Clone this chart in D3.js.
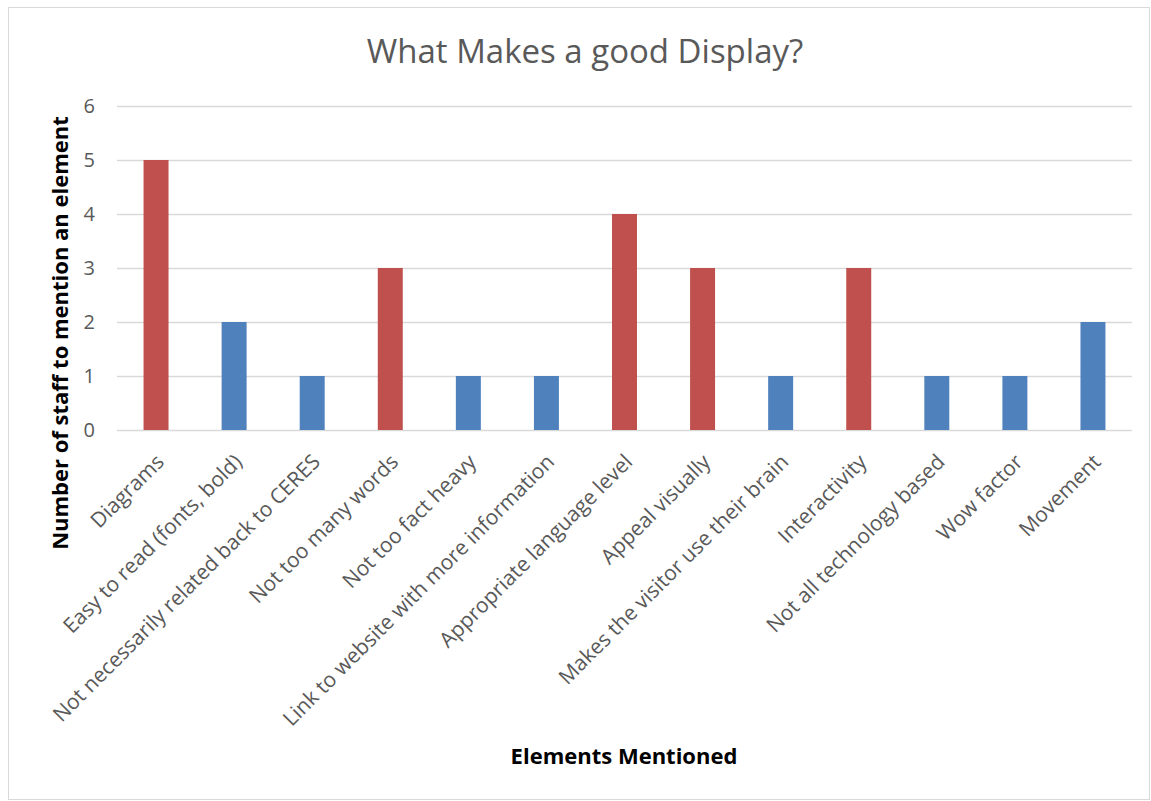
<!DOCTYPE html>
<html>
<head>
<meta charset="utf-8">
<script src="https://cdn.jsdelivr.net/npm/d3@7"></script>
<style>
  body { margin: 0; background: #fff; }
  text { font-family: "Open Sans", "Noto Sans", sans-serif; }
</style>
</head>
<body>
<div id="the_chart"></div>
<script>
// data
var categories = [
  "Diagrams",
  "Easy to read (fonts, bold)",
  "Not necessarily related back to CERES",
  "Not too many words",
  "Not too fact heavy",
  "Link to website with more information",
  "Appropriate language level",
  "Appeal visually",
  "Makes the visitor use their brain",
  "Interactivity",
  "Not all technology based",
  "Wow factor",
  "Movement"
];
var values = [5, 2, 1, 3, 1, 1, 4, 3, 1, 3, 1, 1, 2];
var highlighted = [true, false, false, true, false, false, true, true, false, true, false, false, false];
var yTicks = [0, 1, 2, 3, 4, 5, 6];

var W = 1151, H = 801;
var plotLeft = 117, plotRight = 1132, plotTop = 106, plotBottom = 430;

var svg = d3.select("#the_chart").append("svg")
  .attr("width", W).attr("height", H);

// chart border
svg.append("rect")
  .attr("x", 8.5).attr("y", 7.5)
  .attr("width", W - 10).attr("height", H - 9)
  .attr("fill", "none").attr("stroke", "#d9d9d9");

var xscale = d3.scaleBand()
  .domain(categories)
  .range([plotLeft, plotRight])
  .paddingInner(0.68).paddingOuter(0.34);

var yscale = d3.scaleLinear()
  .domain([0, 6])
  .range([plotBottom, plotTop]);

// gridlines
svg.append("g").attr("id", "grid")
  .selectAll("line")
  .data(yTicks)
  .enter().append("line")
  .attr("x1", plotLeft).attr("x2", plotRight)
  .attr("y1", function(d) { return yscale(d) + 0.5; })
  .attr("y2", function(d) { return yscale(d) + 0.5; })
  .style("stroke", "#d9d9d9")
  .style("stroke-width", "1.5px");

// y axis labels
var yAxis = d3.axisLeft(yscale)
  .tickValues(yTicks)
  .tickFormat(d3.format("d"))
  .tickSize(0).tickPadding(0);
var yg = svg.append("g")
  .attr("transform", "translate(" + (plotLeft - 22) + ",0)")
  .call(yAxis);
yg.select(".domain").remove();
yg.selectAll("text")
  .attr("fill", "#595959")
  .style("font-family", "\"Open Sans\", sans-serif")
  .style("font-size", "20px");

// bars
svg.append("g").attr("id", "bars")
  .selectAll("rect")
  .data(values)
  .enter().append("rect")
  .attr("x", function(d, i) { return xscale(categories[i]); })
  .attr("width", xscale.bandwidth())
  .attr("y", function(d) { return yscale(d); })
  .attr("height", function(d) { return yscale(0) - yscale(d); })
  .style("fill", function(d, i) { return highlighted[i] ? "#c0504d" : "#4f81bd"; });

// x axis labels, rotated
svg.append("g").attr("id", "xlabels")
  .selectAll("text")
  .data(categories)
  .enter().append("text")
  .attr("transform", function(d) {
    var cx = xscale(d) + xscale.bandwidth() / 2 + 4;
    return "translate(" + cx + ",458) rotate(-45)";
  })
  .attr("text-anchor", "end")
  .attr("dy", "0.35em")
  .attr("fill", "#595959")
  .style("font-size", "21px")
  .text(function(d) { return d; });

// title
svg.append("text")
  .attr("x", 585).attr("y", 63)
  .attr("text-anchor", "middle")
  .attr("fill", "#595959")
  .style("font-size", "33px")
  .text("What Makes a good Display?");

// axis titles
svg.append("text")
  .attr("transform", "translate(68,333) rotate(-90)")
  .attr("text-anchor", "middle")
  .attr("fill", "#000")
  .style("font-size", "22px")
  .style("font-weight", "bold")
  .text("Number of staff to mention an element");

svg.append("text")
  .attr("x", 624).attr("y", 764)
  .attr("text-anchor", "middle")
  .attr("fill", "#000")
  .style("font-size", "22px")
  .style("font-weight", "bold")
  .text("Elements Mentioned");
</script>
</body>
</html>
